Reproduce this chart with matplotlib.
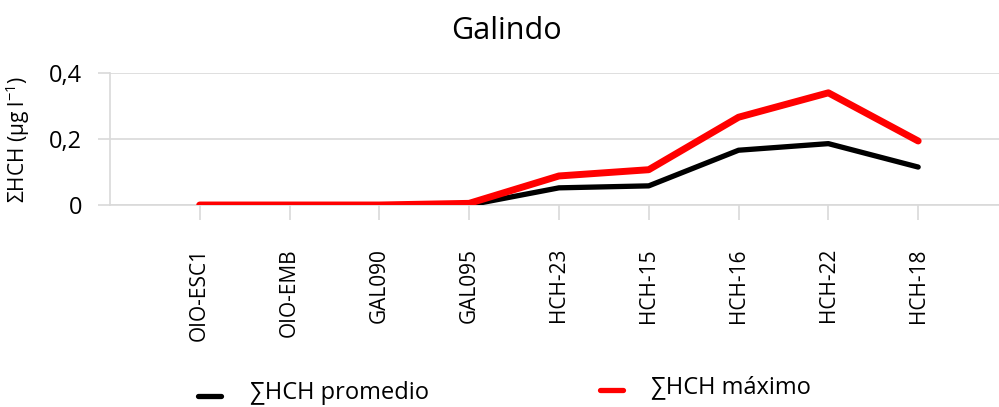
import matplotlib
matplotlib.use("Agg")
import matplotlib.pyplot as plt
from matplotlib.lines import Line2D

# data
stations = ["OIO-ESC1", "OIO-EMB", "GAL090", "GAL095", "HCH-23",
            "HCH-15", "HCH-16", "HCH-22", "HCH-18"]
hch_mean = [0.0, 0.0, 0.0, 0.0, 0.052, 0.058, 0.166, 0.186, 0.115]
hch_max = [0.0, 0.0, 0.0, 0.005, 0.088, 0.107, 0.266, 0.340, 0.194]

plt.rcParams['font.family'] = ['Open Sans', 'DejaVu Sans']
plt.rcParams['mathtext.fontset'] = 'custom'
plt.rcParams['mathtext.rm'] = 'Open Sans'
grid_col = '#d9d9d9'

fig = plt.figure(figsize=(9.99, 4.07), dpi=100)
ax = fig.add_axes([0.110, 0.4963, 0.89, 0.3243])

x = list(range(len(stations)))
ax.plot(x, hch_mean, color='black', lw=3.8, solid_capstyle='round', zorder=3)
ax.plot(x, hch_max, color='#ff0000', lw=5, solid_capstyle='round', zorder=4)

ax.set_xlim(-1.0, 8.9)
ax.set_ylim(0, 0.4)
ax.set_yticks([0, 0.2, 0.4])
ax.set_yticklabels(['0', '0,2', '0,4'], fontsize=17)
ax.yaxis.grid(True, color=grid_col, lw=1.2)
ax.set_axisbelow(True)
ax.tick_params(axis='y', length=9, color=grid_col, width=1.2, pad=11)

ax.set_xticks(x)
ax.set_xticklabels(stations, rotation=90, fontsize=15)
ax.tick_params(axis='x', direction='out', length=11, color=grid_col, width=1.2, pad=20)

for s in ['top', 'right']:
    ax.spines[s].set_visible(False)
for s in ['left', 'bottom']:
    ax.spines[s].set_color(grid_col)
    ax.spines[s].set_linewidth(1.2)

ax.set_ylabel('ΣHCH (µg l$^{\\mathregular{-1}}$)', fontsize=15)
ax.yaxis.set_label_coords(-0.088, 0.5)

fig.text(0.507, 0.925, 'Galindo', ha='center', va='center', fontsize=22)

# legend entries placed like the original
fig.add_artist(Line2D([0.198, 0.221], [0.026, 0.026], color='black', lw=3.8,
                      solid_capstyle='round', transform=fig.transFigure))
fig.text(0.25, 0.034, '∑HCH promedio', ha='left', va='center', fontsize=17)
fig.add_artist(Line2D([0.601, 0.624], [0.042, 0.042], color='#ff0000', lw=3.8,
                      solid_capstyle='round', transform=fig.transFigure))
fig.text(0.652, 0.048, '∑HCH máximo', ha='left', va='center', fontsize=17)

fig.savefig('out.png', dpi=100)
